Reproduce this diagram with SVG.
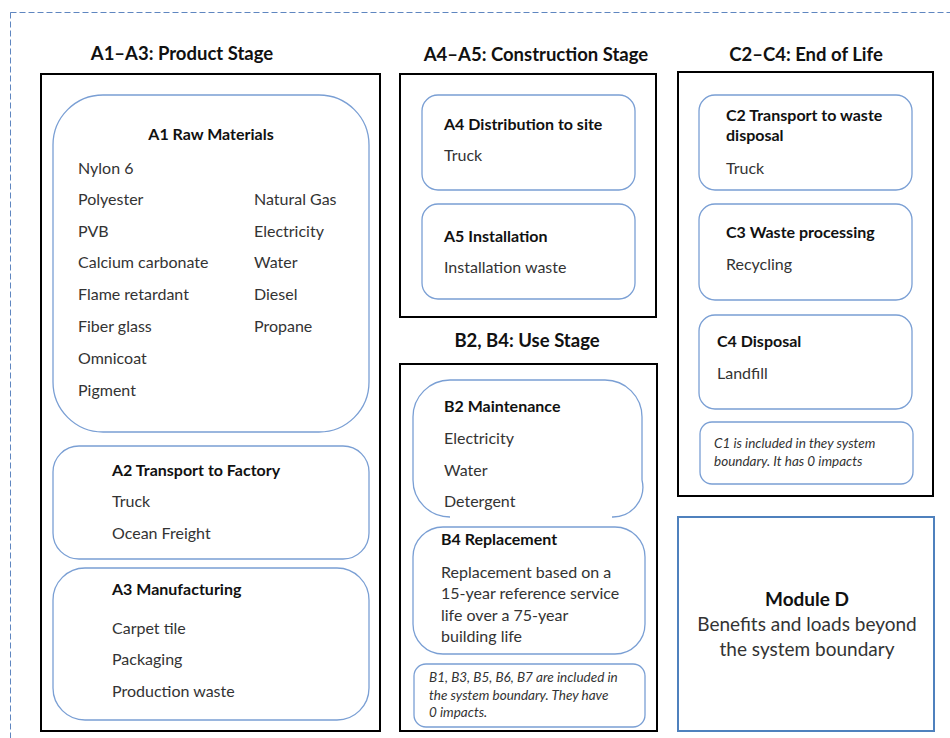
<svg xmlns="http://www.w3.org/2000/svg" width="950" height="738" viewBox="0 0 950 738">
<style>
text{font-family:Lato,"Liberation Sans",sans-serif;fill:#333}
.t{font-size:18.5px;font-weight:bold;fill:#111;text-anchor:middle}
.h{font-size:16px;font-weight:bold;fill:#111}
.b{font-size:16px}
.i{font-size:13.5px;font-style:italic}
.stage{fill:#fff;stroke:#000;stroke-width:2}
.card{fill:#fff;stroke:#7a9fd4;stroke-width:1.3}
</style>
<rect width="950" height="738" fill="#fff"/>
<rect x="10.5" y="12.5" width="980" height="760" fill="none" stroke="#5f86c0" stroke-width="1" stroke-dasharray="6 3"/>

<g id="product-stage">
<text class="t" x="182" y="60">A1–A3: Product Stage</text>
<rect class="stage" x="41" y="74" width="339" height="657"/>
</g>
<g id="a1">
<rect class="card" x="53" y="95" width="316" height="337" rx="50"/>
<text class="h" x="211" y="140" text-anchor="middle">A1 Raw Materials</text>
<text class="b" x="78" y="174">Nylon 6</text>
<text class="b" x="78" y="205">Polyester</text>
<text class="b" x="78" y="237">PVB</text>
<text class="b" x="78" y="268">Calcium carbonate</text>
<text class="b" x="78" y="300">Flame retardant</text>
<text class="b" x="78" y="332">Fiber glass</text>
<text class="b" x="78" y="364">Omnicoat</text>
<text class="b" x="78" y="396">Pigment</text>
<text class="b" x="254" y="205">Natural Gas</text>
<text class="b" x="254" y="237">Electricity</text>
<text class="b" x="254" y="268">Water</text>
<text class="b" x="254" y="300">Diesel</text>
<text class="b" x="254" y="332">Propane</text>
</g>
<g id="a2">
<rect class="card" x="53" y="446" width="316" height="113" rx="26"/>
<text class="h" x="112" y="476">A2 Transport to Factory</text>
<text class="b" x="112" y="507">Truck</text>
<text class="b" x="112" y="539">Ocean Freight</text>
</g>
<g id="a3">
<rect class="card" x="53" y="568" width="316" height="152" rx="32"/>
<text class="h" x="112" y="595">A3 Manufacturing</text>
<text class="b" x="112" y="634">Carpet tile</text>
<text class="b" x="112" y="665">Packaging</text>
<text class="b" x="112" y="697">Production waste</text>
</g>

<g id="construction-stage">
<text class="t" x="536" y="61">A4–A5: Construction Stage</text>
<rect class="stage" x="400" y="74" width="256" height="243"/>
</g>
<g id="a4">
<rect class="card" x="422" y="95" width="213" height="95" rx="16"/>
<text class="h" x="444" y="130">A4 Distribution to site</text>
<text class="b" x="444" y="161">Truck</text>
</g>
<g id="a5">
<rect class="card" x="422" y="204" width="213" height="95" rx="16"/>
<text class="h" x="444" y="242">A5 Installation</text>
<text class="b" x="444" y="273">Installation waste</text>
</g>

<g id="use-stage">
<text class="t" x="527" y="347">B2, B4: Use Stage</text>
<rect class="stage" x="400" y="364" width="257" height="367"/>
</g>
<g id="b2">
<path class="card" d="M450,517 A37,37 0 0 1 413,480 V417 A37,37 0 0 1 450,380 H605 A37,37 0 0 1 642,417 V480 A30,30 0 0 1 612,517" fill="none"/>
<text class="h" x="444" y="412">B2 Maintenance</text>
<text class="b" x="444" y="444">Electricity</text>
<text class="b" x="444" y="476">Water</text>
<text class="b" x="444" y="507">Detergent</text>
</g>
<g id="b4">
<rect class="card" x="413" y="527" width="232" height="127" rx="30"/>
<text class="h" x="441" y="545">B4 Replacement</text>
<text class="b" x="441" y="578">Replacement based on a</text>
<text class="b" x="441" y="599">15-year reference service</text>
<text class="b" x="441" y="621">life over a 75-year</text>
<text class="b" x="441" y="642">building life</text>
</g>
<g id="b-note">
<rect class="card" x="414" y="664" width="231" height="63" rx="12"/>
<text class="i" x="429" y="682">B1, B3, B5, B6, B7 are included in</text>
<text class="i" x="429" y="700">the system boundary. They have</text>
<text class="i" x="429" y="717">0 impacts.</text>
</g>

<g id="end-of-life">
<text class="t" x="806" y="61">C2–C4: End of Life</text>
<rect class="stage" x="678" y="72" width="255" height="424"/>
</g>
<g id="c2">
<rect class="card" x="699" y="95" width="213" height="95" rx="16"/>
<text class="h" x="726" y="121">C2 Transport to waste</text>
<text class="h" x="726" y="141">disposal</text>
<text class="b" x="726" y="174">Truck</text>
</g>
<g id="c3">
<rect class="card" x="699" y="204" width="213" height="96" rx="16"/>
<text class="h" x="726" y="238">C3 Waste processing</text>
<text class="b" x="726" y="270">Recycling</text>
</g>
<g id="c4">
<rect class="card" x="699" y="315" width="213" height="94" rx="16"/>
<text class="h" x="717" y="347">C4 Disposal</text>
<text class="b" x="717" y="379">Landfill</text>
</g>
<g id="c-note">
<rect class="card" x="700" y="422" width="213" height="62" rx="12"/>
<text class="i" x="714" y="448">C1 is included in they system</text>
<text class="i" x="714" y="466">boundary. It has 0 impacts</text>
</g>

<g id="module-d">
<rect x="678" y="517" width="256" height="214" fill="#fff" stroke="#4f81bd" stroke-width="2"/>
<text class="h" x="807" y="606" text-anchor="middle" style="font-size:19px">Module D</text>
<text x="807" y="631" text-anchor="middle" style="font-size:19px">Benefits and loads beyond</text>
<text x="807" y="656" text-anchor="middle" style="font-size:19px">the system boundary</text>
</g>
<g id="connectors"></g>
</svg>
